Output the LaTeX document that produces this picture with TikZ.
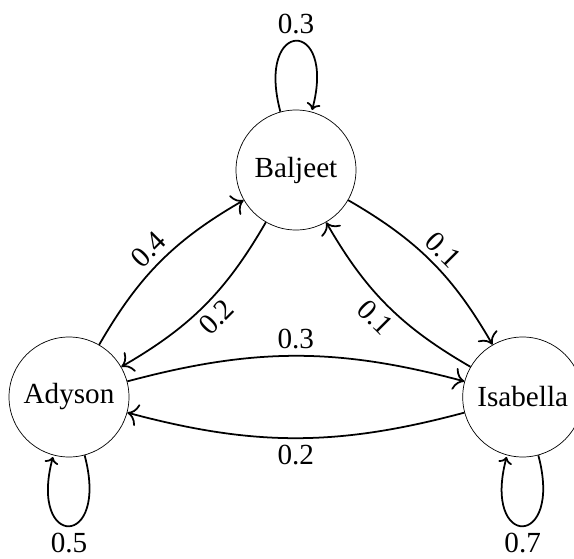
\documentclass[tikz,border=0pt]{standalone}
\usepackage{fontspec}
\setmainfont{Liberation Serif}
\usetikzlibrary{arrows.meta, positioning}
\tikzset{
  person/.style={
    circle,
    draw=black,
    thin,
    minimum size=2.4cm,
    inner sep=0pt,
    font=\fontsize{16.6}{20}\selectfont
  },
  prob/.style={
    font=\fontsize{16.6}{20}\selectfont
  },
  arrow/.style={draw,line width=1pt,-{To[scale=1.6]}},
  bendy/.style={bend left=15}
}

\begin{document}
\begin{tikzpicture}[every edge/.style={arrow}]
    \useasboundingbox (0,0) rectangle (11.48,11.16);
    \node (adyson) [person] at (1.38,3.22) {Adyson};
    \node (isabella) [person, right=6.66cm of adyson] {Isabella};
    \node (baljeet) [person] at (5.92,7.76) {Baljeet};
    \path
    (adyson) edge [bendy] node [prob, sloped, above] {0.4} (baljeet)
    (baljeet) edge [bendy] node [prob, sloped, below] {0.2} (adyson)
    (baljeet) edge [bendy] node [prob, sloped, above] {0.1} (isabella)
    (isabella) edge [bendy] node [prob, sloped, below] {0.1} (baljeet)
    (adyson) edge [bendy] node [prob, above] {0.3} (isabella)
    (isabella) edge [bendy] node [prob, below] {0.2} (adyson)
    (baljeet) edge [loop above] node [prob, above] {0.3} ()
    (adyson) edge [loop below] node [prob, below] {0.5} ()
    (isabella) edge [loop below] node [prob, below] {0.7} ()
    ;
  \end{tikzpicture}
\end{document}
